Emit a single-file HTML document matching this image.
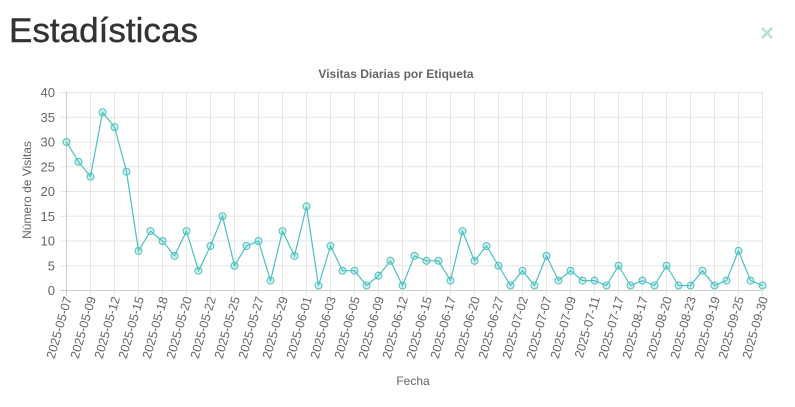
<!DOCTYPE html>
<html><head><meta charset="utf-8"><style>
body{margin:0;background:#fff;width:795px;height:407px;overflow:hidden}
svg{display:block;font-family:"Liberation Sans",Arial,sans-serif}
</style></head><body>
<svg id="s" width="795" height="407" xmlns="http://www.w3.org/2000/svg">
<text x="9" y="42" font-size="34" fill="#333" stroke="#333" stroke-width="0.4" textLength="189" lengthAdjust="spacingAndGlyphs">Estadísticas</text>
<text x="767" y="41" font-size="24" font-weight="bold" fill="#b8e0dc" text-anchor="middle">×</text>
<text x="396" y="78" font-size="12" font-weight="bold" fill="#666" text-anchor="middle">Visitas Diarias por Etiqueta</text>
<text transform="translate(31,190) rotate(-90)" font-size="12" fill="#666" text-anchor="middle">Número de Visitas</text>
<text x="413" y="385" font-size="12" fill="#666" text-anchor="middle">Fecha</text>
<g id="g"></g>
</svg>
<script>
var d=[30,26,23,36,33,24,8,12,10,7,12,4,9,15,5,9,10,2,12,7,17,1,9,4,4,1,3,6,1,7,6,6,2,12,6,9,5,1,4,1,7,2,4,2,2,1,5,1,2,1,5,1,1,4,1,2,8,2,1];
var L=["2025-05-07","2025-05-09","2025-05-12","2025-05-15","2025-05-18","2025-05-20","2025-05-22","2025-05-25","2025-05-27","2025-05-29","2025-06-01","2025-06-03","2025-06-05","2025-06-09","2025-06-12","2025-06-15","2025-06-17","2025-06-20","2025-06-27","2025-07-02","2025-07-07","2025-07-09","2025-07-11","2025-07-17","2025-08-17","2025-08-20","2025-08-23","2025-09-19","2025-09-25","2025-09-30"];
var x0=66.5,dx=12,y0=290.5,sy=4.95,h="";
function X(i){return x0+i*dx}function Y(v){return y0-v*sy}
for(var v=0;v<=40;v+=5){var y=Y(v);h+='<line x1="60" x2="763" y1="'+y+'" y2="'+y+'" stroke="'+(v==0?'#ccc':'#e6e6e6')+'"/>';
h+='<text x="55" y="'+(y+4.5)+'" font-size="13" fill="#666" text-anchor="end">'+v+'</text>';}
for(var k=0;k<30;k++){var x=X(2*k);h+='<line x1="'+x+'" x2="'+x+'" y1="92" y2="296" stroke="'+(k==0?'#ccc':'#e6e6e6')+'"/>';
h+='<text transform="translate('+(x+5.5)+',298) rotate(-74)" font-size="12.5" fill="#666" text-anchor="end">'+L[k]+'</text>';}
h+='<line x1="762.5" x2="762.5" y1="92" y2="290" stroke="#e6e6e6"/>';
var p=d.map(function(v,i){return X(i)+','+Y(v)}).join(' ');
h+='<polyline points="'+p+'" fill="none" stroke="#4bc0c0" stroke-width="1.2"/>';
d.forEach(function(v,i){h+='<circle cx="'+X(i)+'" cy="'+Y(v)+'" r="3.5" fill="rgba(75,192,192,0.25)" stroke="#4bc0c0" stroke-width="1"/>'});
document.getElementById('g').innerHTML=h;
</script>
</body></html>
